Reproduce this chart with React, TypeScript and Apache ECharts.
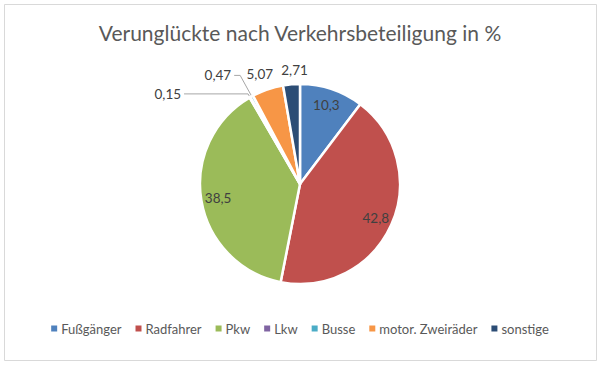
import React, { useEffect, useRef } from "react";
import * as echarts from "echarts";

const titleText = "Verunglückte nach Verkehrsbeteiligung in %";
const categories = ["Fußgänger", "Radfahrer", "Pkw", "Lkw", "Busse", "motor. Zweiräder", "sonstige"];
const values = [10.3, 42.8, 38.5, 0.15, 0.47, 5.07, 2.71];
const colors = ["#4F81BD", "#C0504D", "#9BBB59", "#8064A2", "#4BACC6", "#F79646", "#2C4D75"];

// label placement per slice (inside / outside) and leader line lengths
const labelPositions = ["inside", "inside", "inside", "outside", "outside", "outside", "outside"];
const showLeader = [false, false, false, true, true, false, false];
const leaderLen = [0, 0, 0, 4, 24, 8, 8];
const leaderLen2 = [0, 0, 0, 64, 6, 0, 0];
const labelDx = [0, 0, 0, 0, 0, 11, 20];
const labelDy = [0, 0, 0, 0, 0, -8, -6];

const FONT = "Lato, 'Open Sans', sans-serif";

const fmt = (v: number) => String(v).replace(".", ",");

export default function App() {
  const ref = useRef<HTMLDivElement>(null);
  useEffect(() => {
    if (!ref.current) return;
    const chart = echarts.init(ref.current, null, { renderer: "svg" });
    const mainData = categories.map((name, i) => ({
      name,
      value: values[i],
      itemStyle: { color: colors[i] },
    }));
    const labelData = categories.map((name, i) => ({
      name,
      value: values[i],
      label: { position: labelPositions[i] },
      labelLine: {
        show: showLeader[i],
        length: leaderLen[i],
        length2: leaderLen2[i],
      },
    }));
    chart.setOption({
      animation: false,
      backgroundColor: "#ffffff",
      title: {
        text: titleText,
        left: "center",
        top: 17,
        textStyle: { fontFamily: FONT, fontSize: 21, fontWeight: "normal", color: "#595959" },
      },
      legend: {
        bottom: 26,
        left: "center",
        icon: "rect",
        itemWidth: 6,
        itemHeight: 6,
        itemGap: 14,
        selectedMode: false,
        itemStyle: { borderWidth: 0 },
        textStyle: { fontFamily: FONT, fontSize: 13, color: "#595959", padding: [0, 0, 0, -1] },
        data: categories,
      },
      graphic: [
        {
          type: "rect",
          shape: { x: 4.5, y: 4.5, width: 592, height: 356 },
          style: { fill: "none", stroke: "#d9d9d9", lineWidth: 1 },
          silent: true,
        },
      ],
      series: [
        {
          type: "pie",
          center: [300, 184],
          radius: [0, 100],
          startAngle: 90,
          clockwise: true,
          avoidLabelOverlap: false,
          label: { show: false },
          labelLine: { show: false },
          itemStyle: { borderColor: "#ffffff", borderWidth: 2.5 },
          emphasis: { disabled: true },
          data: mainData,
        },
        {
          type: "pie",
          center: [300, 184],
          radius: [60, 100],
          startAngle: 90,
          clockwise: true,
          avoidLabelOverlap: false,
          silent: true,
          itemStyle: { color: "rgba(0,0,0,0)", borderWidth: 0 },
          emphasis: { disabled: true },
          label: {
            show: true,
            formatter: (p: any) => fmt(p.value),
            fontFamily: FONT,
            fontSize: 13.5,
            color: "#404040",
            distanceToLabelLine: 3,
          },
          labelLine: {
            lineStyle: { color: "#a6a6a6", width: 1 },
          },
          labelLayout: (p: any) => ({ dx: labelDx[p.dataIndex], dy: labelDy[p.dataIndex] }),
          data: labelData,
        },
      ],
    });
    return () => chart.dispose();
  }, []);
  return (
    <div
      ref={ref}
      style={{ position: "fixed", left: 0, top: 0, width: 600, height: 366 }}
    />
  );
}
